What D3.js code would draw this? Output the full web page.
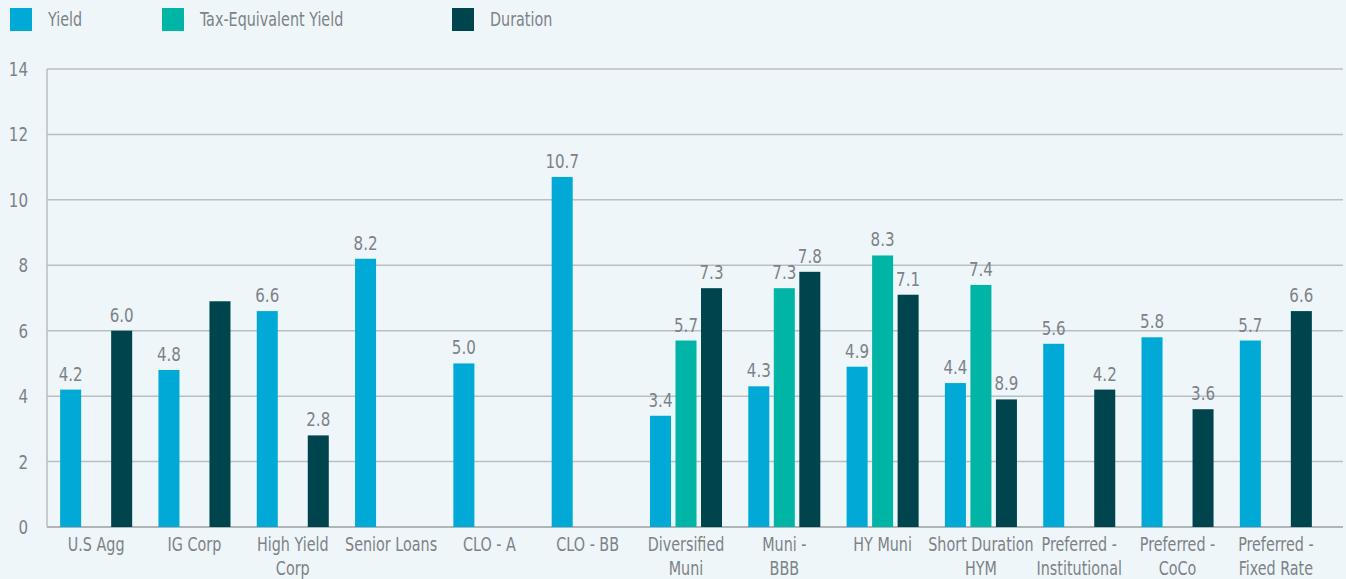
<!DOCTYPE html>
<html>
<head>
<meta charset="utf-8">
<script src="https://cdn.jsdelivr.net/npm/d3@7"></script>
<style>
  html, body { margin: 0; padding: 0; background: #eef6f9; }
  svg { display: block; }
  text { font-family: "DejaVu Sans Condensed", "Liberation Sans Narrow", "DejaVu Sans", sans-serif; font-stretch: condensed; fill: #7d8287; }
</style>
</head>
<body>
<div id="chart"></div>
<script>
var categories = ['U.S Agg', 'IG Corp', 'High Yield\nCorp', 'Senior Loans', 'CLO - A', 'CLO - BB',
  'Diversified\nMuni', 'Muni -\nBBB', 'HY Muni', 'Short Duration\nHYM', 'Preferred -\nInstitutional',
  'Preferred -\nCoCo', 'Preferred -\nFixed Rate']

var series = ['Yield', 'Tax-Equivalent Yield', 'Duration']
var colors = ['#00a9d6', '#00b5a5', '#00454e']

var yieldValues = [4.2, 4.8, 6.6, 8.2, 5.0, 10.7, 3.4, 4.3, 4.9, 4.4, 5.6, 5.8, 5.7]
var teyValues = [null, null, null, null, null, null, 5.7, 7.3, 8.3, 7.4, null, null, null]
var durationValues = [6.0, 6.9, 2.8, null, null, null, 7.3, 7.8, 7.1, 3.9, 4.2, 3.6, 6.6]

// value labels as printed on the chart (some bars carry none)
var yieldLabels = ['4.2', '4.8', '6.6', '8.2', '5.0', '10.7', '3.4', '4.3', '4.9', '4.4', '5.6', '5.8', '5.7']
var teyLabels = [null, null, null, null, null, null, '5.7', '7.3', '8.3', '7.4', null, null, null]
var durationLabels = ['6.0', null, '2.8', null, null, null, '7.3', '7.8', '7.1', '8.9', '4.2', '3.6', '6.6']

var yTicks = [0, 2, 4, 6, 8, 10, 12, 14]

;(function(){
  var W = 1346, H = 579
  var mLeft = 47, mRight = 1343, mTop = 69, mBottom = 527
  var squeeze = 0.84  // narrow the condensed font a bit more

  function place(x, y){ return 'translate(' + x + ',' + y + ') scale(' + squeeze + ',1)' }

  var svg = d3.select('#chart').append('svg')
    .attr('width', W)
    .attr('height', H)

  var y = d3.scaleLinear().domain([0, 14]).range([mBottom, mTop])
  var x0 = d3.scaleBand().domain(categories).range([47, 1325]).padding(0)
  var x1 = d3.scaleBand().domain(series).range([0, x0.bandwidth()])
    .paddingInner(0.176).paddingOuter(0.515)

  // grid
  svg.append('g').selectAll('line')
    .data(yTicks.slice(1))
    .join('line')
    .attr('x1', mLeft).attr('x2', mRight)
    .attr('y1', d => y(d)).attr('y2', d => y(d))
    .attr('stroke', '#babfc1')
    .attr('stroke-width', 1.5)

  svg.append('line')
    .attr('x1', mLeft).attr('x2', mRight)
    .attr('y1', y(0)).attr('y2', y(0))
    .attr('stroke', '#b0b5b7').attr('stroke-width', 2)
  svg.append('line')
    .attr('x1', mLeft).attr('x2', mLeft)
    .attr('y1', y(14)).attr('y2', y(0))
    .attr('stroke', '#babfc1').attr('stroke-width', 1.5)

  // y tick labels
  svg.append('g').selectAll('text')
    .data(yTicks)
    .join('text')
    .attr('transform', d => place(28, y(d)))
    .attr('dy', '0.35em')
    .attr('text-anchor', 'end')
    .style('font-size', '20px')
    .text(d => d)

  // bars
  var allValues = [yieldValues, teyValues, durationValues]
  var allLabels = [yieldLabels, teyLabels, durationLabels]
  var rows = []
  categories.forEach(function(c, i){
    series.forEach(function(s, j){
      rows.push({cat: c, s: s, j: j, v: allValues[j][i], label: allLabels[j][i]})
    })
  })

  var g = svg.append('g')
  g.selectAll('rect')
    .data(rows.filter(d => d.v !== null))
    .join('rect')
    .attr('x', d => x0(d.cat) + x1(d.s))
    .attr('y', d => y(d.v))
    .attr('width', x1.bandwidth())
    .attr('height', d => y(0) - y(d.v))
    .attr('fill', d => colors[d.j])

  g.selectAll('text')
    .data(rows.filter(d => d.label !== null))
    .join('text')
    .attr('transform', d => place(x0(d.cat) + x1(d.s) + x1.bandwidth() / 2, y(d.v) - 9))
    .attr('text-anchor', 'middle')
    .style('font-size', '20px')
    .text(d => d.label)

  // x labels
  var xl = svg.append('g').selectAll('text')
    .data(categories)
    .join('text')
    .attr('transform', d => place(x0(d) + x0.bandwidth() / 2, 551))
    .attr('text-anchor', 'middle')
    .style('font-size', '19px')
  xl.selectAll('tspan')
    .data(d => d.split('\n'))
    .join('tspan')
    .attr('x', 0)
    .attr('dy', (d, i) => i === 0 ? 0 : 24)
    .text(d => d)

  // legend
  var legendX = [10, 162, 452]
  var leg = svg.append('g').selectAll('g')
    .data(series)
    .join('g')
    .attr('transform', (d, i) => 'translate(' + legendX[i] + ',8)')
  leg.append('rect')
    .attr('width', 22).attr('height', 23)
    .attr('fill', (d, i) => colors[i])
  leg.append('text')
    .attr('transform', place(38, 11.5))
    .attr('dy', '0.35em')
    .style('font-size', '19px')
    .text(d => d)
})()
</script>
</body>
</html>
